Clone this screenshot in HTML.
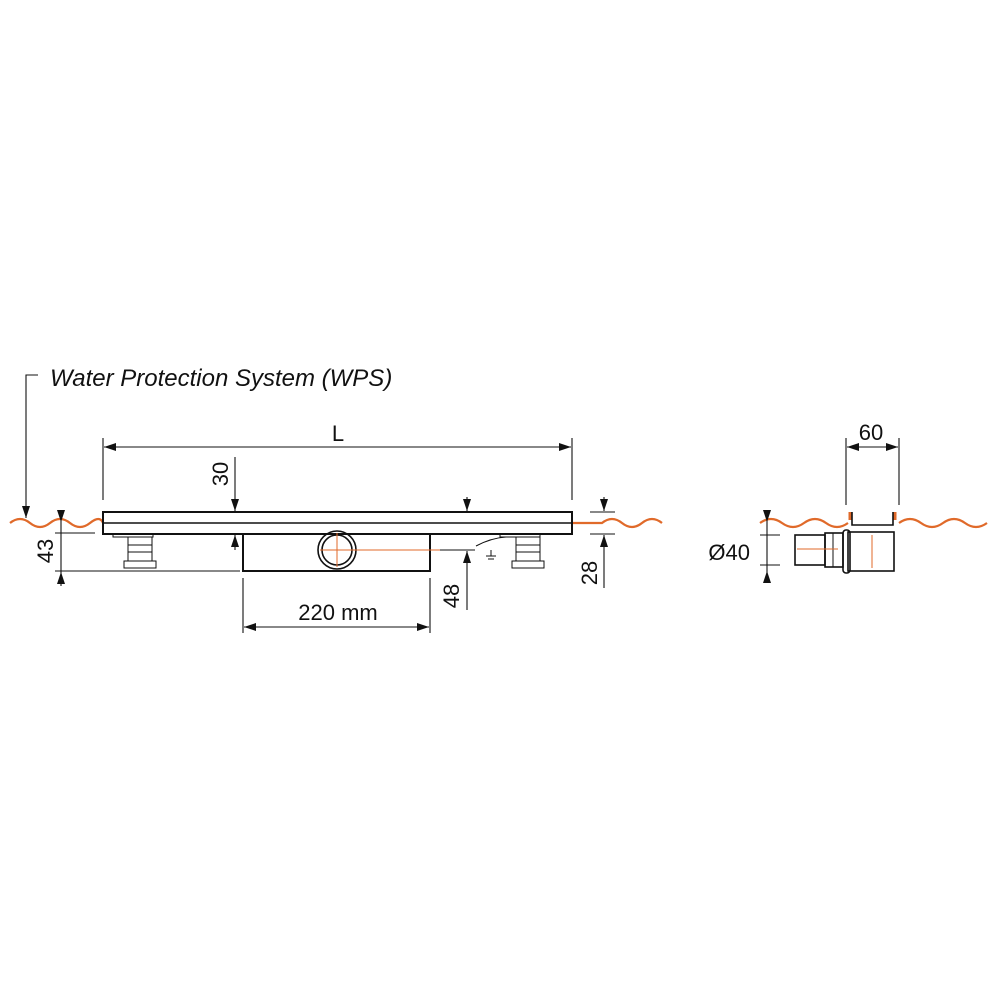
<!DOCTYPE html>
<html><head><style>
html,body{margin:0;padding:0;background:#fff;}
svg{display:block;}
text{font-family:"Liberation Sans","DejaVu Sans",sans-serif;fill:#111;}
</style></head><body>
<svg width="1000" height="1000" viewBox="0 0 1000 1000" xmlns="http://www.w3.org/2000/svg">
<defs>
<marker id="a" markerWidth="12" markerHeight="8" refX="12" refY="4" orient="auto" markerUnits="userSpaceOnUse">
<path d="M0,0 L12,4 L0,8 Z" fill="#111"/></marker>
</defs>
<g fill="none" stroke="#e06a2a" stroke-width="2.2">
<path d="M10,523 q10,-8 20,0 t20,0 t20,0 t20,0 t13,0"/>
<path d="M572,523 l30,0 q10,-8 20,0 t20,0 t20,0"/>
<path d="M760,523 q11,-8 22,0 t22,0 t22,0 t22,0"/>
<path d="M899,523 q11,-8 22,0 t22,0 t22,0 t22,0"/>
<path d="M850,512 v8 M895,512 v8" stroke-width="3"/>
</g>
<g fill="none" stroke="#111">
<rect x="103" y="512" width="469" height="22" stroke-width="2"/>
<line x1="103" y1="523" x2="572" y2="523" stroke-width="1.5"/>
<path d="M243,534 V571 H430 V534" stroke-width="2"/>
<circle cx="337" cy="550" r="19" stroke-width="1.6"/>
<circle cx="337" cy="550" r="15" stroke-width="1.6"/>
<g stroke-width="1">
<rect x="113" y="534" width="40" height="3"/><rect x="128" y="537" width="24" height="24"/>
<line x1="128" y1="545" x2="152" y2="545"/><line x1="128" y1="552" x2="152" y2="552"/>
<rect x="124" y="561" width="32" height="7"/>
<rect x="500" y="534" width="40" height="3"/><rect x="516" y="537" width="24" height="24"/>
<line x1="516" y1="545" x2="540" y2="545"/><line x1="516" y1="552" x2="540" y2="552"/>
<rect x="512" y="561" width="32" height="7"/>
<path d="M476,546 q15,-8 30,-9" /><line x1="491" y1="550" x2="491" y2="556"/><line x1="486" y1="556" x2="496" y2="556"/><line x1="488" y1="559" x2="494" y2="559"/>
</g>
<g stroke-width="1.1">
<path d="M38,375 H26 V518" marker-end="url(#a)"/>
<line x1="103" y1="438" x2="103" y2="500"/><line x1="572" y1="438" x2="572" y2="500"/>
<line x1="104" y1="447" x2="571" y2="447" marker-end="url(#a)"/>
<line x1="300" y1="447" x2="104" y2="447" marker-end="url(#a)"/>
<line x1="55" y1="533" x2="95" y2="533"/><line x1="55" y1="571" x2="240" y2="571"/>
<line x1="61" y1="510" x2="61" y2="522" marker-end="url(#a)"/>
<line x1="61" y1="586" x2="61" y2="572" marker-end="url(#a)"/>
<line x1="61" y1="522" x2="61" y2="572"/>
<line x1="235" y1="457" x2="235" y2="511" marker-end="url(#a)"/>
<line x1="235" y1="550" x2="235" y2="535" marker-end="url(#a)"/>
<line x1="467" y1="497" x2="467" y2="511" marker-end="url(#a)"/>
<line x1="467" y1="610" x2="467" y2="551" marker-end="url(#a)"/>
<line x1="440" y1="550" x2="475" y2="550"/>
<line x1="243" y1="578" x2="243" y2="633"/><line x1="430" y1="578" x2="430" y2="633"/>
<line x1="300" y1="627" x2="244" y2="627" marker-end="url(#a)"/><line x1="300" y1="627" x2="429" y2="627" marker-end="url(#a)"/>
<line x1="604" y1="497" x2="604" y2="511" marker-end="url(#a)"/>
<line x1="604" y1="588" x2="604" y2="535" marker-end="url(#a)"/>
<line x1="590" y1="512" x2="615" y2="512"/><line x1="590" y1="534" x2="615" y2="534"/>
<line x1="846" y1="438" x2="846" y2="505"/><line x1="899" y1="438" x2="899" y2="505"/>
<line x1="870" y1="447" x2="847" y2="447" marker-end="url(#a)"/><line x1="870" y1="447" x2="898" y2="447" marker-end="url(#a)"/>
<line x1="767" y1="510" x2="767" y2="522" marker-end="url(#a)"/>
<line x1="767" y1="583" x2="767" y2="571" marker-end="url(#a)"/>
<line x1="767" y1="522" x2="767" y2="571"/>
<line x1="760" y1="535" x2="780" y2="535"/><line x1="760" y1="565" x2="780" y2="565"/>
</g>
<g stroke-width="1.6">
<path d="M852,512 V525 H893 V512"/>
<rect x="848" y="532" width="46" height="39"/>
<rect x="843" y="530" width="7" height="43" rx="3"/>
<rect x="795" y="535" width="30" height="30"/>
<rect x="825" y="533" width="18" height="34"/>
<line x1="833" y1="533" x2="833" y2="567" stroke-width="1"/>
</g>
</g>
<g stroke="#e06a2a" stroke-width="1">
<line x1="320" y1="550" x2="440" y2="550"/><line x1="337" y1="533" x2="337" y2="567"/>
<line x1="797" y1="549" x2="838" y2="549"/><line x1="872" y1="535" x2="872" y2="568"/>
</g>
<text x="50" y="386" font-size="24" font-style="italic">Water Protection System (WPS)</text>
<text x="338" y="441" font-size="22" text-anchor="middle">L</text>
<text x="338" y="620" font-size="22" text-anchor="middle">220 mm</text>
<text x="871" y="440" font-size="22" text-anchor="middle">60</text>
<text x="750" y="560" font-size="22" text-anchor="end">Ø40</text>
<text transform="translate(53,551) rotate(-90)" font-size="22" text-anchor="middle">43</text>
<text transform="translate(228,474) rotate(-90)" font-size="22" text-anchor="middle">30</text>
<text transform="translate(459,596) rotate(-90)" font-size="22" text-anchor="middle">48</text>
<text transform="translate(597,573) rotate(-90)" font-size="22" text-anchor="middle">28</text>
</svg>
</body></html>
